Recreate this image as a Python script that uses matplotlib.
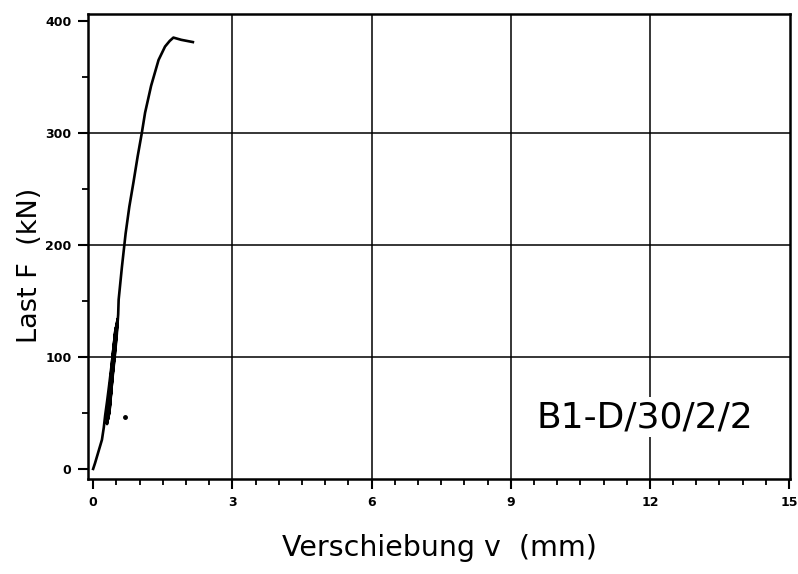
import numpy as np
import matplotlib.pyplot as plt
from matplotlib.ticker import MultipleLocator

# Verschiebung v (mm) und Last F (kN), inkl. Lastwechsel im Bereich 40-135 kN
v = [0.00, 0.04, 0.09, 0.14, 0.19, 0.23, 0.26, 0.30, 0.34, 0.39, 0.44, 0.48,
     0.43, 0.38, 0.33, 0.30,
     0.33, 0.37, 0.42, 0.46, 0.49,
     0.44, 0.39, 0.35, 0.31,
     0.34, 0.38, 0.43, 0.47, 0.50,
     0.45, 0.40, 0.36, 0.32,
     0.35, 0.39, 0.44, 0.48, 0.51,
     0.46, 0.41, 0.37, 0.33,
     0.36, 0.40, 0.45, 0.49, 0.52,
     0.47, 0.42, 0.38, 0.34,
     0.37, 0.41, 0.46, 0.50, 0.53,
     0.48, 0.43, 0.39, 0.35,
     0.38, 0.42, 0.47, 0.51, 0.54,
     0.55, 0.62, 0.70, 0.78, 0.87, 0.96, 1.05, 1.12, 1.25, 1.41, 1.55, 1.65,
     1.73, 1.90, 2.15]
F = [0, 5, 12, 19, 26, 37, 48, 60, 73, 90, 108, 124,
     105, 82, 58, 40,
     55, 72, 92, 110, 126,
     106, 83, 60, 42,
     57, 74, 94, 112, 128,
     108, 85, 62, 44,
     59, 76, 96, 114, 130,
     110, 87, 64, 46,
     61, 78, 98, 116, 132,
     112, 89, 66, 48,
     63, 80, 100, 118, 134,
     114, 91, 68, 50,
     65, 82, 102, 120, 138,
     151, 180, 210, 234, 256, 279, 300, 318, 342, 365, 377, 382,
     385, 383, 381]

# einzelner Messpunkt
v_pt = [0.69]
F_pt = [46]

grid_v = [3, 6, 9, 12]
grid_F = [100, 200, 300]

label = "B1-D/30/2/2"

fig = plt.figure(figsize=(7.98, 5.74), dpi=100)
ax = fig.add_axes([0.1103, 0.1655, 0.8797, 0.81])

for gv in grid_v:
    ax.axvline(gv, color='black', linewidth=1.1, zorder=1)
for gf in grid_F:
    ax.axhline(gf, color='black', linewidth=1.1, zorder=1)

ax.plot(v, F, color='black', linewidth=1.9, solid_joinstyle='round', zorder=3)
ax.plot(v_pt, F_pt, 'o', color='black', markersize=2.5, zorder=3)

ax.set_xlim(-0.11, 15.02)
ax.set_ylim(-9, 406)

ax.xaxis.set_major_locator(MultipleLocator(3))
ax.xaxis.set_minor_locator(MultipleLocator(0.5))
ax.yaxis.set_major_locator(MultipleLocator(100))
ax.yaxis.set_minor_locator(MultipleLocator(50))

for s in ax.spines.values():
    s.set_linewidth(1.8)

ax.tick_params(which='major', direction='out', length=7, width=1.5,
               labelsize=9, pad=5, top=False, right=False)
ax.tick_params(which='minor', direction='out', length=4, width=1.3,
               top=False, right=False)
for t in ax.get_xticklabels() + ax.get_yticklabels():
    t.set_fontweight('bold')

ax.set_xlabel("Verschiebung v  (mm)", fontsize=20.5, labelpad=18)
ax.set_ylabel("Last F  (kN)", fontsize=19.5)
ax.yaxis.set_label_coords(-0.064, 0.46)

ax.text(11.9, 46, label, fontsize=26, ha='center', va='center',
        bbox=dict(facecolor='white', edgecolor='none', pad=2), zorder=4)

fig.savefig("out.png", dpi=100)
